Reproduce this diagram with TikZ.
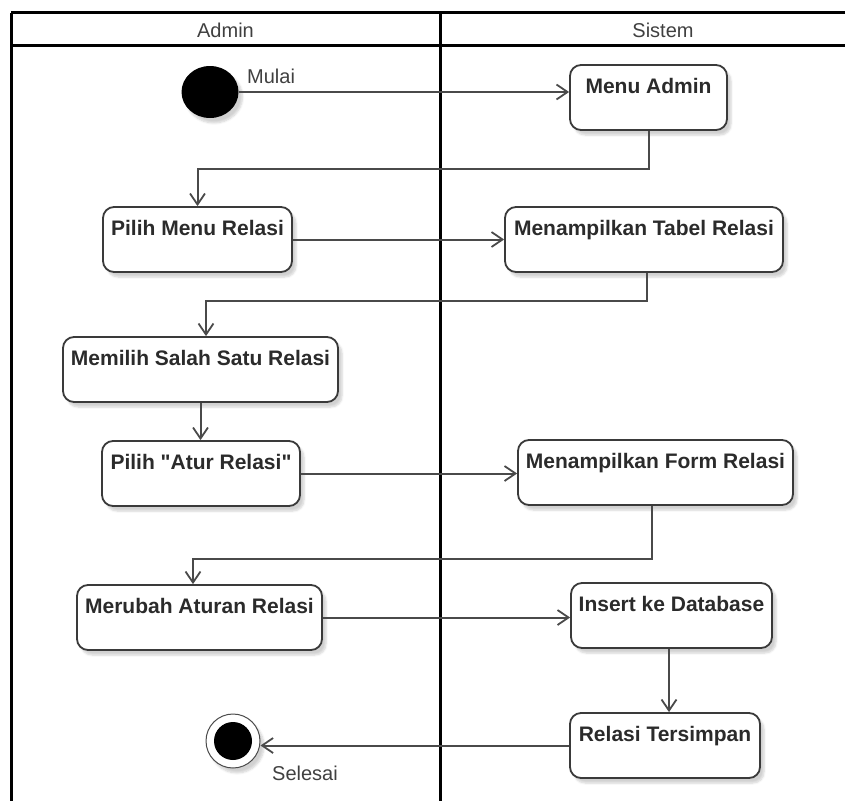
\documentclass[tikz,border=0pt]{standalone}
\usepackage{fontspec}
\setmainfont{Liberation Sans}[Ligatures=TeXOff]
\usetikzlibrary{arrows.meta,shapes.geometric,shadows.blur}

\definecolor{boxline}{HTML}{3A3A3A}
\definecolor{flowline}{HTML}{4A4A4A}
\definecolor{acttext}{HTML}{2B2B2B}
\definecolor{lbltext}{HTML}{404040}

\begin{document}
\begin{tikzpicture}[x=1pt, y=-1pt,
  softshadow/.style={blur shadow={shadow xshift=4pt, shadow yshift=-5pt,
      shadow opacity=18, shadow blur steps=6}},
  act/.style={draw=boxline, line width=1.8pt, rounded corners=11pt, fill=white,
      font=\fontsize{21}{24}\selectfont\bfseries, text=acttext,
      inner xsep=0pt, inner ysep=0pt, text height=28pt, text depth=37pt,
      softshadow},
  lbl/.style={font=\fontsize{20}{24}\selectfont, text=lbltext, inner sep=0pt},
  frameline/.style={line width=3pt, black},
  flow/.style={draw=flowline, line width=2pt,
      -{Straight Barb[length=11pt, width=15pt, line width=1.8pt]}},
]
\useasboundingbox (0,0) rectangle (845,800);

% swimlane frame
\begin{scope}
  \clip (0,0) rectangle (845,800);
  \draw[frameline] (11,13) -- (900,13);
  \draw[frameline] (11,46) -- (900,46);
  \draw[frameline] (11,13) -- (11,820);
  \draw[frameline] (440,13) -- (440,820);
\end{scope}
\node[lbl] (laneadmin) at (225.5,30) {Admin};
\node[lbl] (lanesistem) at (663,30) {Sistem};

% start node
\node[ellipse, fill=black, minimum width=57pt, minimum height=52pt, inner sep=0pt,
      softshadow] (start) at (210,92) {};
\node[lbl, anchor=base west] (mulai) at (247,83) {Mulai};

% activities
\node[act, minimum width=157pt] (menu)      at (648.5,97.5) {Menu Admin};
\node[act, minimum width=189pt] (pilihmenu) at (197.5,239.5) {Pilih Menu Relasi};
\node[act, minimum width=278pt] (tabel)     at (644,239.5) {Menampilkan Tabel Relasi};
\node[act, minimum width=275pt] (memilih)   at (200.5,369.5) {Memilih Salah Satu Relasi};
\node[act, minimum width=198pt] (atur)      at (201,473.5) {Pilih "Atur Relasi"};
\node[act, minimum width=275pt] (form)      at (655.5,472.5) {Menampilkan Form Relasi};
\node[act, minimum width=245pt] (merubah)   at (199.5,617.5) {Merubah Aturan Relasi};
\node[act, minimum width=201pt] (insert)    at (671.5,615.5) {Insert ke Database};
\node[act, minimum width=190pt] (tersimpan) at (665,745.5) {Relasi Tersimpan};

% final node
\node[circle, draw=flowline, line width=1pt, fill=white, minimum size=54pt,
      inner sep=0pt, softshadow] (final) at (233,741) {};
\node[circle, fill=black, minimum size=38pt, inner sep=0pt] (finaldot) at (final) {};
\node[lbl, anchor=base west] (selesai) at (272,780) {Selesai};

% control flow
\draw[flow] (start.east) -- (start.east -| menu.west);
\draw[flow] (menu.south) -- ++(0,38) -| (pilihmenu.north);
\draw[flow] (pilihmenu.east) -- (pilihmenu.east -| tabel.west);
\draw[flow] ([xshift=3pt]tabel.south) -- ++(0,28) -| ([xshift=5.5pt]memilih.north);
\draw[flow] (memilih.south) -- (memilih.south |- atur.north);
\draw[flow] (atur.east) -- (atur.east -| form.west);
\draw[flow] ([xshift=-3.5pt]form.south) -- ++(0,53) -| ([xshift=-6.5pt]merubah.north);
\draw[flow] (merubah.east) -- (merubah.east -| insert.west);
\draw[flow] ([xshift=-2.5pt]insert.south) -- ([xshift=-2.5pt]insert.south |- tersimpan.north);
\draw[flow] (tersimpan.west) -- (tersimpan.west -| final.east);
\end{tikzpicture}
\end{document}
